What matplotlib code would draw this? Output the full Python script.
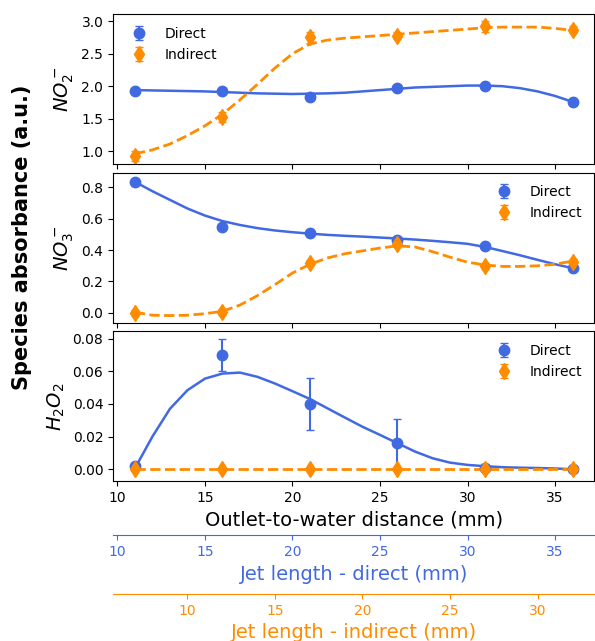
import numpy as np
import matplotlib
matplotlib.use("Agg")
import matplotlib.pyplot as plt

# measured points (outlet-to-water distance in mm)
dist = [11, 16, 21, 26, 31, 36]

no2_direct = [1.93, 1.92, 1.83, 1.98, 2.01, 1.76]
no2_direct_err = [0.02, 0.02, 0.02, 0.02, 0.02, 0.02]
no2_indirect = [0.93, 1.53, 2.75, 2.78, 2.92, 2.87]
no2_indirect_err = [0.08, 0.08, 0.08, 0.06, 0.08, 0.05]

no3_direct = [0.835, 0.55, 0.51, 0.465, 0.425, 0.285]
no3_direct_err = [0.01, 0.01, 0.01, 0.01, 0.01, 0.01]
no3_indirect = [0.0, 0.005, 0.32, 0.44, 0.30, 0.325]
no3_indirect_err = [0.02, 0.02, 0.02, 0.02, 0.02, 0.02]

h2o2_direct = [0.002, 0.070, 0.040, 0.016, 0.0005, 0.0]
h2o2_direct_err = [0.001, 0.010, 0.016, 0.015, 0.001, 0.0005]
h2o2_indirect = [0.0, 0.0, 0.0, 0.0, 0.0, 0.0]
h2o2_indirect_err = [0.0, 0.0, 0.0, 0.0, 0.0, 0.0]

fit_x = list(range(11, 37))
no2_direct_fit = [1.94, 1.935, 1.93, 1.925, 1.92, 1.91, 1.90, 1.89, 1.885, 1.88, 1.885, 1.89, 1.90,
                  1.92, 1.94, 1.96, 1.98, 1.99, 2.00, 2.01, 2.01, 2.00, 1.97, 1.92, 1.85, 1.76]
no2_indirect_fit = [0.96, 1.02, 1.11, 1.24, 1.39, 1.57, 1.79, 2.03, 2.28, 2.50, 2.65, 2.71, 2.74,
                    2.76, 2.78, 2.80, 2.82, 2.84, 2.86, 2.88, 2.90, 2.91, 2.91, 2.91, 2.89, 2.86]
no3_direct_fit = [0.835, 0.775, 0.72, 0.665, 0.62, 0.585, 0.56, 0.54, 0.525, 0.514, 0.505, 0.497, 0.491,
                  0.486, 0.48, 0.474, 0.467, 0.459, 0.45, 0.44, 0.42, 0.394, 0.367, 0.338, 0.31, 0.285]
no3_indirect_fit = [0.005, -0.015, -0.017, -0.015, -0.005, 0.01, 0.05, 0.11, 0.18, 0.254, 0.31, 0.35, 0.377,
                    0.395, 0.413, 0.427, 0.42, 0.39, 0.355, 0.323, 0.305, 0.296, 0.296, 0.30, 0.31, 0.33]
h2o2_direct_fit = [0.0005, 0.020, 0.037, 0.0484, 0.0555, 0.0586, 0.0592, 0.0566, 0.0525, 0.0478, 0.043,
                   0.0373, 0.0316, 0.026, 0.021, 0.0159, 0.0108, 0.0067, 0.004, 0.0026, 0.0018, 0.0012,
                   0.0009, 0.0007, 0.0004, 0.0]
h2o2_indirect_fit = [0.0] * 26

c_dir = 'royalblue'
c_ind = 'darkorange'

fig = plt.figure(figsize=(5.95, 6.41), dpi=100)
axes = fig.subplots(3, 1, sharex=True)
fig.subplots_adjust(left=0.19, right=0.999, top=0.978, bottom=0.249, hspace=0.057)

panels = [
    (no2_direct, no2_direct_err, no2_indirect, no2_indirect_err, no2_direct_fit, no2_indirect_fit,
     r'$NO_2^-$', 'upper left', (0.80, 3.11)),
    (no3_direct, no3_direct_err, no3_indirect, no3_indirect_err, no3_direct_fit, no3_indirect_fit,
     r'$NO_3^-$', 'upper right', (-0.063, 0.893)),
    (h2o2_direct, h2o2_direct_err, h2o2_indirect, h2o2_indirect_err, h2o2_direct_fit, h2o2_indirect_fit,
     r'$H_2O_2$', 'upper right', (-0.0075, 0.0845)),
]

for ax, (yd, ed, yi, ei, fd, fi, lab, loc, lim) in zip(axes, panels):
    ax.plot(fit_x, fd, color=c_dir, lw=1.8)
    ax.plot(fit_x, fi, color=c_ind, lw=2, ls='--')
    ax.errorbar(dist, yd, yerr=ed, fmt='o', color=c_dir, ms=7.5, capsize=3, label='Direct')
    ax.errorbar(dist, yi, yerr=ei, fmt='d', color=c_ind, ms=8, capsize=3, label='Indirect')
    ax.set_ylabel(lab, fontsize=14)
    ax.set_ylim(*lim)
    ax.legend(loc=loc, frameon=False, fontsize=10)

axes[2].set_xlabel('Outlet-to-water distance (mm)', fontsize=14)

# jet length axes below
sec1 = axes[2].secondary_xaxis(-0.359, functions=(lambda x: x, lambda x: x))
sec1.set_xlabel('Jet length - direct (mm)', fontsize=14, color=c_dir)
sec1.tick_params(colors=c_dir)
sec1.spines['bottom'].set_color(c_dir)

sec2 = axes[2].secondary_xaxis(-0.75, functions=(lambda x: x - 4, lambda x: x + 4))
sec2.set_xlabel('Jet length - indirect (mm)', fontsize=14, color=c_ind)
sec2.tick_params(colors=c_ind)
sec2.spines['bottom'].set_color(c_ind)

fig.text(22 / 595, 1 - 237 / 641, 'Species absorbance (a.u.)', rotation=90,
         fontsize=15, fontweight='bold', ha='center', va='center')

fig.savefig('out.png', dpi=100)
